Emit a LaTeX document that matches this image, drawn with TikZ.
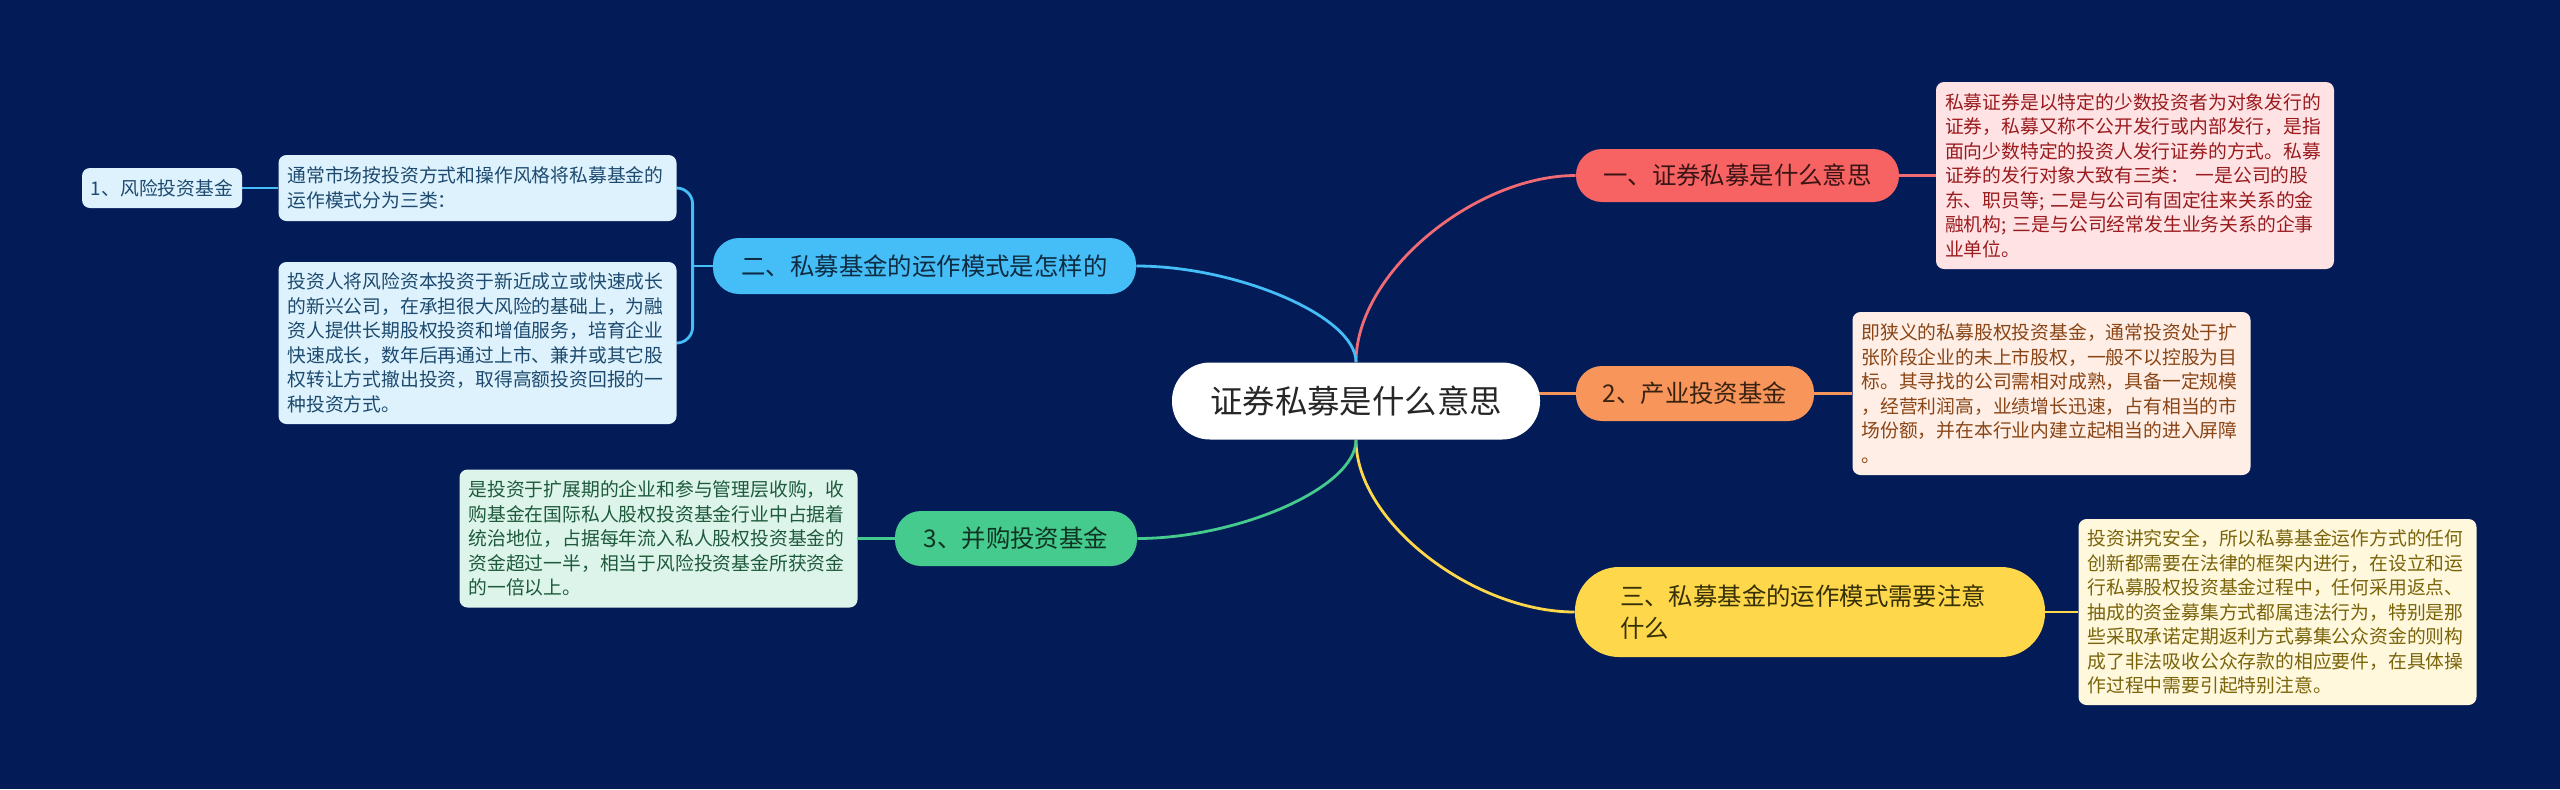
\documentclass[tikz,border=0pt]{standalone}
\usepackage{fontspec}
\setmainfont{Noto Sans CJK SC}
\usetikzlibrary{calc}
\definecolor{bgc}{HTML}{031C58}
\definecolor{redn}{HTML}{F76363}
\definecolor{redl}{HTML}{F26B74}
\definecolor{redt}{HTML}{3A1414}
\definecolor{redbox}{HTML}{FFE3E4}
\definecolor{redbt}{HTML}{9A1B1E}
\definecolor{orgn}{HTML}{F8955A}
\definecolor{orgt}{HTML}{3A2212}
\definecolor{orgbox}{HTML}{FEEEE5}
\definecolor{orgbt}{HTML}{8A4516}
\definecolor{yeln}{HTML}{FFD74A}
\definecolor{yelt}{HTML}{363008}
\definecolor{yelbox}{HTML}{FFF8DD}
\definecolor{yelbt}{HTML}{7A640A}
\definecolor{blun}{HTML}{45BDF6}
\definecolor{blut}{HTML}{0E2B42}
\definecolor{blubox}{HTML}{DDF2FD}
\definecolor{blubt}{HTML}{1D4A6E}
\definecolor{grnn}{HTML}{46CB8E}
\definecolor{grnt}{HTML}{0F3322}
\definecolor{grnbox}{HTML}{DDF4EA}
\definecolor{grnbt}{HTML}{1D5A3C}
\pgfdeclarelayer{bg}
\pgfdeclarelayer{back}
\pgfsetlayers{back,bg,main}
\begin{document}
\begin{tikzpicture}[x=0.5pt,y=-0.5pt,
  branch/.style={rounded corners=13pt, inner sep=0pt, align=center,
    font=\fontsize{12.2pt}{16pt}\selectfont, minimum height=27.5pt},
  detail/.style={rounded corners=4pt, inner xsep=4.5pt, inner ysep=0pt,
    text width=190pt, align=left, font=\fontsize{9.4pt}{12.25pt}\selectfont},
  conn/.style={line width=1.4pt}]
\useasboundingbox (0,0) rectangle (2560,789);
\begin{pgfonlayer}{back}
\fill[bgc] (0,0) rectangle (2560,789);
\end{pgfonlayer}

% centre
\node[fill=white, rounded corners=19pt, minimum width=184pt, minimum height=38.5pt,
  inner sep=0pt, text=black!85, font=\fontsize{16.2pt}{20pt}\selectfont] (c) at (1356,401) {证券私募是什么意思};

% right branches
\node[branch, fill=redn, text=redt, minimum width=161.5pt, minimum height=26.5pt] (n1) at (1737.5,175.5) {一、证券私募是什么意思};
\node[detail, fill=redbox, text=redbt, minimum height=93.5pt] (b1) at (2135,175.5) {私募证券是以特定的少数投资者为对象发行的\\证券，私募又称不公开发行或内部发行，是指\\面向少数特定的投资人发行证券的方式。私募\\证券的发行对象大致有三类： 一是公司的股\\东、职员等; 二是与公司有固定往来关系的金\\融机构; 三是与公司经常发生业务关系的企事\\业单位。};

\node[branch, fill=orgn, text=orgt, minimum width=119pt] (n2) at (1695,393.5) {2、产业投资基金};
\node[detail, fill=orgbox, text=orgbt, minimum height=81.5pt] (b2) at (2051.5,393.5) {即狭义的私募股权投资基金，通常投资处于扩\\张阶段企业的未上市股权，一般不以控股为目\\标。其寻找的公司需相对成熟，具备一定规模\\，经营利润高，业绩增长迅速，占有相当的市\\场份额，并在本行业内建立起相当的进入屏障\\。};

\node[branch, fill=yeln, text=yelt, rounded corners=22pt, align=left, text width=190pt,
  inner xsep=22.5pt, minimum height=45pt] (n3) at (1810,612) {三、私募基金的运作模式需要注意\\什么};
\node[detail, fill=yelbox, text=yelbt, minimum height=93pt] (b3) at (2277.5,612) {投资讲究安全，所以私募基金运作方式的任何\\创新都需要在法律的框架内进行，在设立和运\\行私募股权投资基金过程中，任何采用返点、\\抽成的资金募集方式都属违法行为，特别是那\\些采取承诺定期返利方式募集公众资金的则构\\成了非法吸收公众存款的相应要件，在具体操\\作过程中需要引起特别注意。};

% left branches
\node[branch, fill=blun, text=blut, minimum width=211.5pt, minimum height=28pt] (nb) at (924.5,266) {二、私募基金的运作模式是怎样的};
\node[detail, fill=blubox, text=blubt, minimum height=33pt] (lb1) at (477.5,188) {通常市场按投资方式和操作风格将私募基金的\\运作模式分为三类：};
\node[detail, fill=blubox, text=blubt, minimum height=81pt] (lb2) at (477.5,343) {投资人将风险资本投资于新近成立或快速成长\\的新兴公司，在承担很大风险的基础上，为融\\资人提供长期股权投资和增值服务，培育企业\\快速成长，数年后再通过上市、兼并或其它股\\权转让方式撤出投资，取得高额投资回报的一\\种投资方式。};
\node[rounded corners=4pt, fill=blubox, text=blubt, inner sep=0pt, minimum width=80pt,
  minimum height=20pt, font=\fontsize{9.4pt}{12.25pt}\selectfont] (lf) at (162,188) {1、风险投资基金};

\node[branch, fill=grnn, text=grnt, minimum width=121pt] (ng) at (1016,538.5) {3、并购投资基金};
\node[detail, fill=grnbox, text=grnbt, minimum height=69pt] (gb) at (658.5,538.5) {是投资于扩展期的企业和参与管理层收购，收\\购基金在国际私人股权投资基金行业中占据着\\统治地位，占据每年流入私人股权投资基金的\\资金超过一半，相当于风险投资基金所获资金\\的一倍以上。};

\coordinate (j) at ($(nb.west)+(-20,0)$);

\begin{pgfonlayer}{bg}
\draw[conn, redl] (c.north) .. controls +(0,-90) and +(-100,0) .. (n1.west);
\draw[conn, yeln] (c.south) .. controls +(0,83) and +(-100,0) .. (n3.west);
\draw[conn, blun] (c.north) .. controls +(0,-46) and +(100,0) .. (nb.east);
\draw[conn, grnn] (c.south) .. controls +(0,48) and +(100,0) .. (ng.east);
\draw[conn, orgn] (c.center |- n2.west) -- (n2.west);
\draw[conn, redl] (n1.east) -- (b1.west);
\draw[conn, orgn] (n2.east) -- (b2.west);
\draw[conn, yeln] (n3.east) -- (b3.west);
\draw[conn, grnn] (ng.west) -- (gb.east);
\draw[conn, blun] (nb.west) -- (j);
\draw[conn, blun, rounded corners=8pt] (lb1.east) -| (j) |- (lb2.east);
\draw[conn, blun] (lf.east) -- (lf.east -| lb1.west);
\end{pgfonlayer}
\end{tikzpicture}
\end{document}
